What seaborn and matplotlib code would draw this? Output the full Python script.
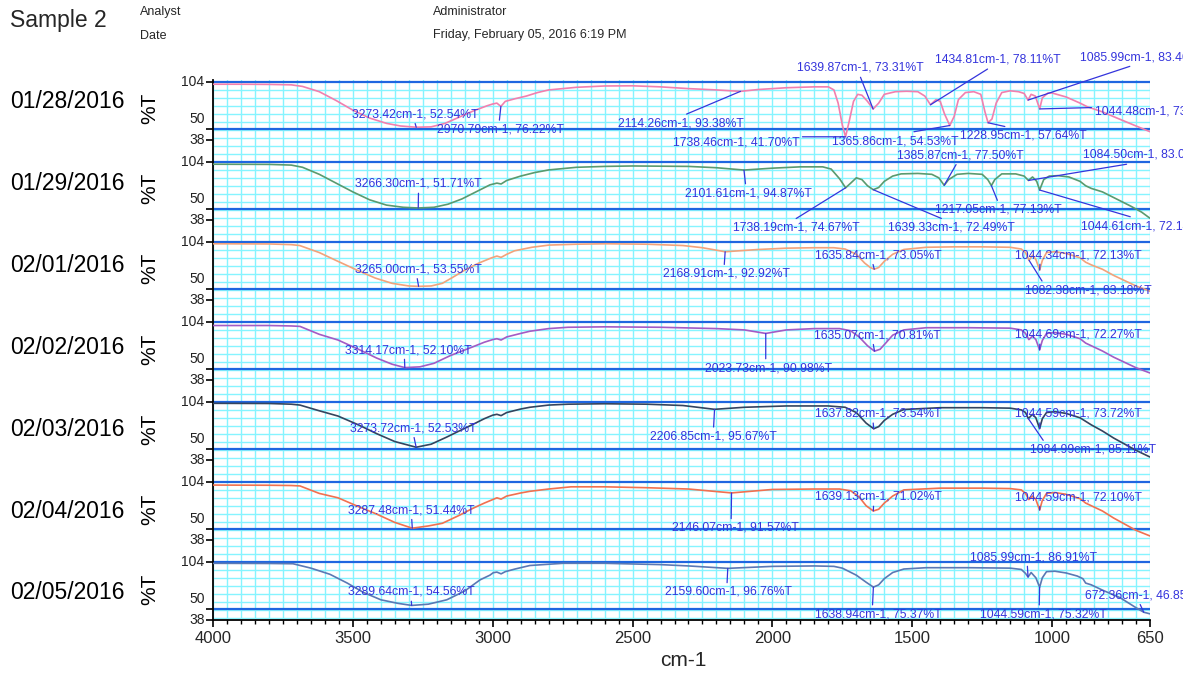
import matplotlib
matplotlib.use("Agg")
import matplotlib.pyplot as plt
import matplotlib.transforms as mtransforms
from matplotlib.ticker import MultipleLocator
import numpy as np
import pandas as pd
import seaborn as sns

# ---------------- data ----------------
dates = ["01/28/2016", "01/29/2016", "02/01/2016", "02/02/2016",
         "02/03/2016", "02/04/2016", "02/05/2016"]
line_colors = ["#f27fae", "#5a9a6e", "#f3a27a", "#a35bc4",
               "#34445e", "#f2704f", "#5a78b4"]

wn_1 = [4000, 3900, 3800, 3720, 3680, 3620, 3560, 3500, 3440, 3380, 3330, 3273.42, 3220, 3170, 3120, 3070,
        3020, 3000, 2985, 2970.79, 2955, 2920, 2880, 2840, 2800, 2700, 2600, 2500, 2400, 2300, 2200,
        2114.26, 2050, 1950, 1850, 1800, 1780, 1765, 1750, 1738.46, 1725, 1710, 1695, 1680, 1660,
        1639.87, 1620, 1600, 1560, 1520, 1480, 1455, 1434.81, 1415, 1400, 1385, 1365.86, 1350, 1335,
        1310, 1280, 1255, 1240, 1228.95, 1215, 1200, 1180, 1150, 1120, 1100, 1085.99, 1075, 1060,
        1044.48, 1035, 1015, 1000, 950, 900, 875, 820, 768, 700, 650]
t_1 = [101.5, 101.5, 101.3, 100.8, 99, 93, 83, 72, 63, 57, 54, 52.54, 53, 57, 64, 71,
       77, 79, 80, 76.22, 82, 85, 88, 92, 95, 98, 99.5, 99.7, 98.5, 96.5, 95,
       93.38, 95.5, 97.5, 98.5, 98.5, 95, 80, 55, 41.70, 60, 82, 90, 89, 82,
       73.31, 80, 90, 93, 93.5, 93, 88, 78.11, 84, 82, 68, 54.53, 65, 84,
       92, 93, 90, 70, 57.64, 62, 80, 92, 94, 93, 91, 83.46, 90, 88,
       73.40, 86, 91.5, 91.5, 87, 80, 76, 70, 63, 54, 47.5]

wn_2 = [4000, 3800, 3720, 3680, 3620, 3560, 3500, 3440, 3380, 3320, 3266.30, 3210, 3160, 3110, 3060,
        3010, 2985, 2970, 2950, 2900, 2850, 2800, 2700, 2600, 2500, 2300, 2200, 2101.61, 2000, 1900,
        1820, 1790, 1760, 1738.19, 1720, 1700, 1680, 1660, 1639.33, 1620, 1600, 1570, 1540, 1480,
        1430, 1405, 1385.87, 1370, 1340, 1300, 1250, 1230, 1217.05, 1205, 1180, 1130, 1100, 1084.50,
        1070, 1055, 1044.61, 1030, 1010, 980, 940, 900, 880, 860, 820, 770, 720, 680, 650]
t_2 = [101.5, 101.3, 100.5, 98, 90, 80, 70, 61, 55, 52.5, 51.71, 52.5, 56, 62, 70,
       78, 80, 79, 83, 88, 92, 95, 98, 99, 99.5, 99, 97.5, 94.87, 97, 98.5,
       98.5, 96, 85, 74.67, 80, 86, 84, 77, 72.49, 75, 82, 88, 90.5, 91,
       90, 86, 77.50, 84, 90, 91, 90, 84, 77.13, 84, 90.5, 90.5, 88, 83.02,
       87, 82, 72.14, 84, 88, 88.5, 87, 82, 77, 74, 70, 62, 54, 47, 40]

wn_3 = [4000, 3800, 3720, 3690, 3620, 3560, 3485, 3420, 3360, 3300, 3265.00, 3220, 3180, 3142, 3100,
        3050, 3004, 2985, 2970, 2950, 2922, 2860, 2799, 2700, 2593, 2450, 2320, 2250, 2168.91, 2050,
        1950, 1850, 1780, 1740, 1700, 1670, 1650, 1635.84, 1620, 1600, 1570, 1530, 1450, 1350, 1250,
        1150, 1110, 1095, 1082.38, 1070, 1058, 1044.34, 1035, 1020, 990, 950, 900, 880, 860, 820,
        780, 740, 700, 650]
t_3 = [102, 101.8, 101, 100, 92, 83, 72, 63, 57, 54, 53.55, 54, 57, 64, 72,
       80, 86, 88, 86.5, 90, 94, 98, 100.5, 101.5, 102, 101.5, 100, 97.5, 92.92, 95.5,
       97, 97.5, 97.5, 96, 90, 80, 75, 73.05, 75, 82, 90, 95.5, 98, 98.5, 98.5,
       98, 96, 92, 83.18, 89, 84, 72.13, 83, 92, 93, 91, 86, 81, 78, 73,
       66, 60, 54, 48]

wn_4 = [4000, 3800, 3720, 3689, 3620, 3553, 3480, 3415, 3360, 3314.17, 3260, 3210, 3150, 3074, 3030,
        3000, 2985, 2970, 2950, 2900, 2867, 2800, 2731, 2600, 2400, 2200, 2100, 2023.73, 1950, 1850,
        1760, 1720, 1690, 1660, 1635.07, 1615, 1595, 1570, 1530, 1450, 1300, 1150, 1110, 1095, 1083,
        1070, 1058, 1044.69, 1035, 1020, 990, 950, 900, 880, 860, 820, 780, 740, 700, 650]
t_4 = [100, 100, 99.5, 99, 90, 83.5, 73, 63, 56, 52.10, 53, 57, 66, 75.4, 81,
       84, 85, 83.5, 87, 91, 93.5, 96.5, 98, 98.5, 98, 96.5, 95, 90.98, 95, 96.5,
       96.5, 94, 87, 77, 70.81, 73, 80, 89, 95, 97.5, 97.5, 97, 95, 91, 84,
       88, 84, 72.27, 83, 91, 92, 90, 85, 80, 77, 71, 64, 58, 52, 46]

wn_5 = [4000, 3800, 3720, 3689, 3620, 3553, 3480, 3415, 3350, 3273.72, 3220, 3165, 3120, 3074, 3030,
        3000, 2985, 2970, 2950, 2900, 2867, 2800, 2731, 2600, 2450, 2320, 2206.85, 2100, 1950, 1800,
        1740, 1700, 1665, 1637.82, 1620, 1600, 1570, 1530, 1400, 1250, 1150, 1110, 1095, 1084.99,
        1070, 1058, 1044.59, 1035, 1020, 990, 950, 900, 880, 860, 820, 780, 740, 700, 650]
t_5 = [102.5, 102.3, 101.5, 100.5, 94, 88, 78, 68, 59, 52.53, 56, 64, 71, 78, 85,
       89, 90, 88.5, 92, 96, 98, 100.5, 101.5, 102, 101.5, 100, 95.67, 98, 99.5, 99.5,
       98, 92, 80, 73.54, 76, 83, 90, 95.5, 97.5, 97.5, 97, 95, 92, 85.11,
       90, 86, 73.72, 85, 92, 93, 91, 86, 82, 78, 71, 63, 56, 49, 41.4]

wn_6 = [4000, 3800, 3720, 3689, 3620, 3553, 3480, 3415, 3350, 3287.48, 3230, 3180, 3120, 3074, 3030,
        3000, 2985, 2970, 2950, 2900, 2867, 2800, 2720, 2600, 2450, 2300, 2146.07, 2000, 1850, 1760,
        1720, 1690, 1665, 1639.13, 1620, 1600, 1570, 1530, 1400, 1250, 1150, 1110, 1095, 1083, 1070,
        1058, 1044.59, 1035, 1020, 990, 950, 900, 880, 860, 820, 780, 740, 700, 650]
t_6 = [100.5, 100.3, 100, 99.5, 91, 86, 76, 67.5, 58, 51.44, 54, 57, 66, 73.6, 80,
       84, 86, 84.5, 88, 91.5, 93.4, 96, 98.5, 98.5, 97.5, 96, 91.57, 95.5, 96, 96,
       94, 87, 77, 71.02, 73, 80, 88, 95, 97, 97, 96.5, 95, 91, 84, 88,
       84, 72.10, 83, 91, 92, 90, 85, 80, 77, 71, 63, 56, 49, 42.6]

wn_7 = [4000, 3800, 3714, 3650, 3582, 3520, 3463, 3400, 3340, 3289.64, 3230, 3164, 3100, 3045, 3010,
        2998, 2985, 2970, 2955, 2920, 2867, 2749, 2600, 2400, 2300, 2159.60, 2000, 1850, 1780, 1750,
        1700, 1665, 1638.94, 1620, 1600, 1570, 1530, 1450, 1300, 1150, 1110, 1095, 1085.99, 1075, 1058,
        1044.59, 1035, 1020, 990, 950, 910, 890, 880, 860, 820, 757, 700, 672.36, 650]
t_7 = [102.5, 102.3, 102, 97, 90, 80, 69.5, 61, 57, 54.56, 56, 61, 71, 83.7, 89,
       91.8, 92.5, 90.5, 93, 96, 100, 102.5, 102.5, 101, 99.5, 96.76, 99, 99.5, 99, 97,
       89, 81, 75.37, 78, 85, 92, 96, 97.5, 97.5, 97, 95.5, 91, 86.91, 92, 86,
       75.32, 86, 93, 93.5, 91.5, 88, 85, 80, 78, 72, 63.4, 52, 46.85, 45]

# labelled peaks per panel: (wavenumber, %T)
peaks = [
    [(3273.42, 52.54), (2970.79, 76.22), (2114.26, 93.38), (1738.46, 41.70), (1639.87, 73.31),
     (1434.81, 78.11), (1365.86, 54.53), (1228.95, 57.64), (1085.99, 83.46), (1044.48, 73.40)],
    [(3266.30, 51.71), (2101.61, 94.87), (1738.19, 74.67), (1639.33, 72.49), (1385.87, 77.50),
     (1217.05, 77.13), (1084.50, 83.02), (1044.61, 72.14)],
    [(3265.00, 53.55), (2168.91, 92.92), (1635.84, 73.05), (1044.34, 72.13), (1082.38, 83.18)],
    [(3314.17, 52.10), (2023.73, 90.98), (1635.07, 70.81), (1044.69, 72.27)],
    [(3273.72, 52.53), (2206.85, 95.67), (1637.82, 73.54), (1044.59, 73.72), (1084.99, 85.11)],
    [(3287.48, 51.44), (2146.07, 91.57), (1639.13, 71.02), (1044.59, 72.10)],
    [(3289.64, 54.56), (2159.60, 96.76), (1638.94, 75.37), (1044.59, 75.32), (1085.99, 86.91),
     (672.36, 46.85)],
]

# label layout: text offset in pixels (dx, dy) and leader attach point on text (relx, rely)
label_layout = [
    [(-64, 13, .49, 0), (-64, -23, .49, 1), (-122, -32, .48, 1), (-173, -6, .49, 1), (-76, 41, .49, 0),
     (4.5, 45, .46, 0), (-118, -15.5, .5, 1), (-28, -13, .47, 1), (52, 43, .47, 0), (55, -3, .48, 1)],
    [(-63, 24, .5, 0), (-59, -23, .48, 1), (-113, -40, .46, 1), (15, -38, .48, 1), (-47, 30, .48, 0),
     (-56, -24, .5, 1), (54.5, 25.5, .5, 0), (41, -36, .48, 1)],
    [(-64, 17, .49, 0), (-62, -22, .48, 1), (-59, 14, .45, 0), (-25, 15, .2, 0), (-4, -30, .15, 1)],
    [(-60, 17.6, .47, 0), (-61, -34.6, .48, 1), (-60, 16, .46, 0), (-25, 15, .2, 0)],
    [(-66, 19, .5, 0), (-64.5, -27, .5, 1), (-59, 15, .46, 0), (-25, 15, .2, 0), (2, -31, .12, 1)],
    [(-64, 18, .5, 0), (-60, -35, .47, 1), (-58, 14, .46, 0), (-25, 13, .2, 0)],
    [(-64, 13.5, .5, 0), (-63, -23.6, .49, 1), (-58, -27, .45, 1), (-60, -27, .47, 1), (-58, 20, .45, 0),
     (-59, 17, .45, 0)],
]

x_ticks = [4000, 3500, 3000, 2500, 2000, 1500, 1000, 650]
y_tick_values = [104, 50, 38]

spectra = [(wn_1, t_1), (wn_2, t_2), (wn_3, t_3), (wn_4, t_4),
           (wn_5, t_5), (wn_6, t_6), (wn_7, t_7)]

# ---------------- style ----------------
sns.set_style("white")
plt.rcParams["font.family"] = ["Liberation Sans", "DejaVu Sans"]

W, H = 1183, 677
fig = plt.figure(figsize=(W / 100, H / 100), dpi=100)
ax = fig.add_axes([213 / W, 1 - 620 / H, (1150 - 213) / W, (620 - 80) / H])

PITCH = 91.0
n = len(spectra)
offsets = [(n - 1 - i) * PITCH - 38 for i in range(n)]

CYAN = "#86f4ff"
BLUE = "#1f66e0"
ANN = "#3434dc"

ax.set_xlim(4000, 650)
ax.set_ylim(0, (n - 1) * PITCH + 66 + 2.3)

# cyan grid
ax.xaxis.set_minor_locator(MultipleLocator(50))
ax.set_xticks(x_ticks)
ax.grid(which="both", axis="x", color=CYAN, lw=1.0, zorder=0)
for off in offsets:
    for k in range(1, 10):
        ax.axhline(off + 104 - k * PITCH / 10, color=CYAN, lw=1.0, zorder=0)
    ax.axhline(off + 104, color=BLUE, lw=1.6, zorder=1)
    ax.axhline(off + 50, color=BLUE, lw=1.6, zorder=1)

# spectra
frames = []
for i, (w, t) in enumerate(spectra):
    frames.append(pd.DataFrame({"wn": w, "T": t, "y": np.asarray(t) + offsets[i], "sample": dates[i]}))
df = pd.concat(frames, ignore_index=True)
for i, d in enumerate(dates):
    sub = df[df["sample"] == d]
    sns.lineplot(data=sub, x="wn", y="y", ax=ax, color=line_colors[i], lw=1.2,
                 sort=False, estimator=None, legend=False, zorder=3)

# annotations
for i, (plist, llist) in enumerate(zip(peaks, label_layout)):
    for (w, t), (dx, dy, rx, ry) in zip(plist, llist):
        ax.annotate(f"{w:.2f}cm-1, {t:.2f}%T", xy=(w, t + offsets[i]),
                    xytext=(dx, dy), textcoords="offset pixels",
                    ha="left", va="center", fontsize=8.8, color=ANN,
                    arrowprops=dict(arrowstyle="-", color=ANN, lw=0.9,
                                    shrinkA=0, shrinkB=0, relpos=(rx, ry)),
                    annotation_clip=False, zorder=5)

# axes styling
for s in ["top", "right"]:
    ax.spines[s].set_visible(False)
for s in ["left", "bottom"]:
    ax.spines[s].set_color("black")
    ax.spines[s].set_linewidth(1.3)

yt = []
for off in offsets:
    for v in y_tick_values:
        yt.append(off + v)
ax.set_yticks(yt)
ax.set_yticklabels([])
ax.tick_params(axis="y", which="major", left=True, length=5, width=1.2, color="black")
ax.tick_params(axis="x", which="major", bottom=True, length=5, width=1.2, color="black",
               labelsize=12, pad=3)
ax.tick_params(axis="x", which="minor", bottom=True, length=3, width=1.0, color="black")
ax.set_xticklabels([str(v) for v in x_ticks])
ax.set_xlabel("")
ax.set_ylabel("")

ytrans = mtransforms.blended_transform_factory(ax.transAxes, ax.transData)
shift50 = mtransforms.ScaledTranslation(0, 10 / 100, fig.dpi_scale_trans)
for off in offsets:
    for v in y_tick_values:
        tr = ytrans + shift50 if v == 50 else ytrans
        ax.text(-0.009, off + v, str(v), transform=tr, ha="right", va="center",
                fontsize=10, color="#222222")

# left labels
for i, d in enumerate(dates):
    ypx = 102 + 81.8 * i
    fig.text(10 / W, 1 - ypx / H, d, fontsize=16.5, ha="left", va="center", color="black")
    ypt = 108 + 80.3 * i
    fig.text(150 / W, 1 - ypt / H, "%T", fontsize=15, rotation=90, ha="center", va="center",
             color="black")

# header
fig.text(10 / W, 1 - 21 / H, "Sample 2", fontsize=16.5, ha="left", va="center")
fig.text(140 / W, 1 - 12 / H, "Analyst", fontsize=9, ha="left", va="center")
fig.text(140 / W, 1 - 36 / H, "Date", fontsize=9, ha="left", va="center")
fig.text(433 / W, 1 - 12 / H, "Administrator", fontsize=9, ha="left", va="center")
fig.text(433 / W, 1 - 35 / H, "Friday, February 05, 2016 6:19 PM", fontsize=9, ha="left", va="center")
fig.text(683 / W, 1 - 661 / H, "cm-1", fontsize=15, ha="center", va="center")

fig.savefig("out.png", dpi=100, facecolor="white")
